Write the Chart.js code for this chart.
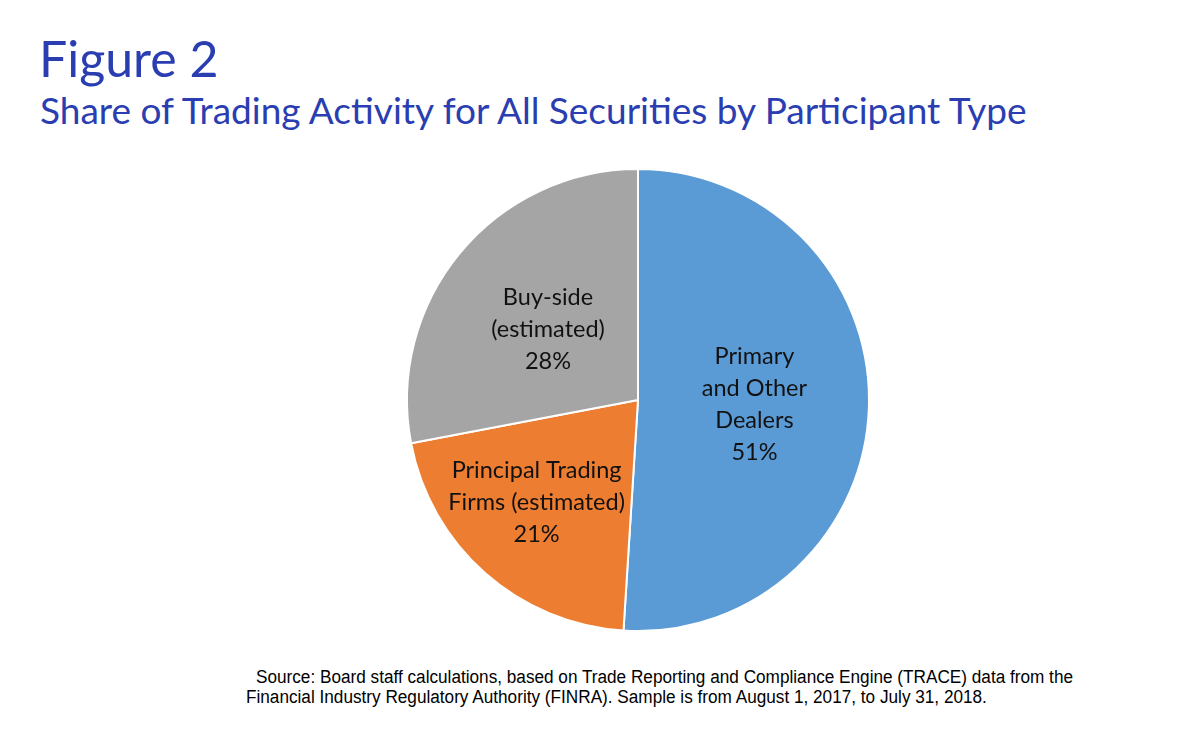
<!DOCTYPE html>
<html>
<head>
<meta charset="utf-8">
<script src="https://cdn.jsdelivr.net/npm/chart.js@4"></script>
<style>
  html, body { margin: 0; padding: 0; background: #fff; }
  body { width: 1200px; height: 744px; position: relative; overflow: hidden; }
  #t1 { position: absolute; left: 39px; top: 33px; font-family: Lato, "Noto Sans", sans-serif; font-size: 50px; color: #2A3EB1; line-height: 1; white-space: nowrap; }
  #t2 { position: absolute; left: 40px; top: 91px; font-family: Lato, "Noto Sans", sans-serif; font-size: 37px; color: #2A3EB1; line-height: 1; white-space: nowrap; }
  #wrap { position: absolute; left: 398px; top: 160px; width: 480px; height: 480px; }
  .src { position: absolute; font-family: "Liberation Sans", Arial, sans-serif; font-size: 18px; color: #000; white-space: nowrap; line-height: 1; transform-origin: 0 0; }
</style>
</head>
<body>
<div id="t1">Figure 2</div>
<div id="t2">Share of Trading Activity for All Securities by Participant Type</div>
<div id="wrap"><canvas id="c"></canvas></div>
<div class="src" id="s1" style="left:256px; top:668px;">Source: Board staff calculations, based on Trade Reporting and Compliance Engine (TRACE) data from the</div>
<div class="src" id="s2" style="left:246px; top:688px;">Financial Industry Regulatory Authority (FINRA). Sample is from August 1, 2017, to July 31, 2018.</div>
<script>
const categories = [
  ["Primary", "and Other", "Dealers"],
  ["Principal Trading", "Firms (estimated)"],
  ["Buy-side", "(estimated)"]
];
const shares = [51, 21, 28];
const colors = ["#5B9BD5", "#ED7D31", "#A5A5A5"];
const labelOffsets = [[1, 1], [-25, 16], [-1, 3]];

// condense footnote text horizontally (narrow Arial look)
(function () {
  const s1 = document.getElementById("s1");
  const s = 817 / s1.getBoundingClientRect().width;
  document.querySelectorAll(".src").forEach(el => el.style.transform = "scaleX(" + s + ")");
})();

const labelPlugin = {
  id: "sliceLabels",
  afterDatasetsDraw(chart) {
    const ctx = chart.ctx;
    const meta = chart.getDatasetMeta(0);
    ctx.save();
    ctx.font = '23.5px Lato, "Noto Sans", sans-serif';
    ctx.fillStyle = "#111";
    ctx.textAlign = "center";
    ctx.textBaseline = "middle";
    const lh = 32;
    meta.data.forEach((arc, i) => {
      const p = arc.tooltipPosition();
      const lines = categories[i].concat([shares[i] + "%"]);
      const x = p.x + labelOffsets[i][0];
      const y0 = p.y + labelOffsets[i][1] - (lines.length - 1) * lh / 2;
      lines.forEach((t, k) => ctx.fillText(t, x, y0 + k * lh));
    });
    ctx.restore();
  }
};

new Chart(document.getElementById("c"), {
  type: "pie",
  data: {
    labels: categories.map(l => l.join(" ")),
    datasets: [{
      data: shares,
      backgroundColor: colors,
      borderColor: "#ffffff",
      borderWidth: 2
    }]
  },
  options: {
    responsive: true,
    maintainAspectRatio: false,
    animation: false,
    layout: { padding: 8 },
    plugins: {
      legend: { display: false },
      tooltip: { enabled: false },
      title: { display: false }
    }
  },
  plugins: [labelPlugin]
});
</script>
</body>
</html>
